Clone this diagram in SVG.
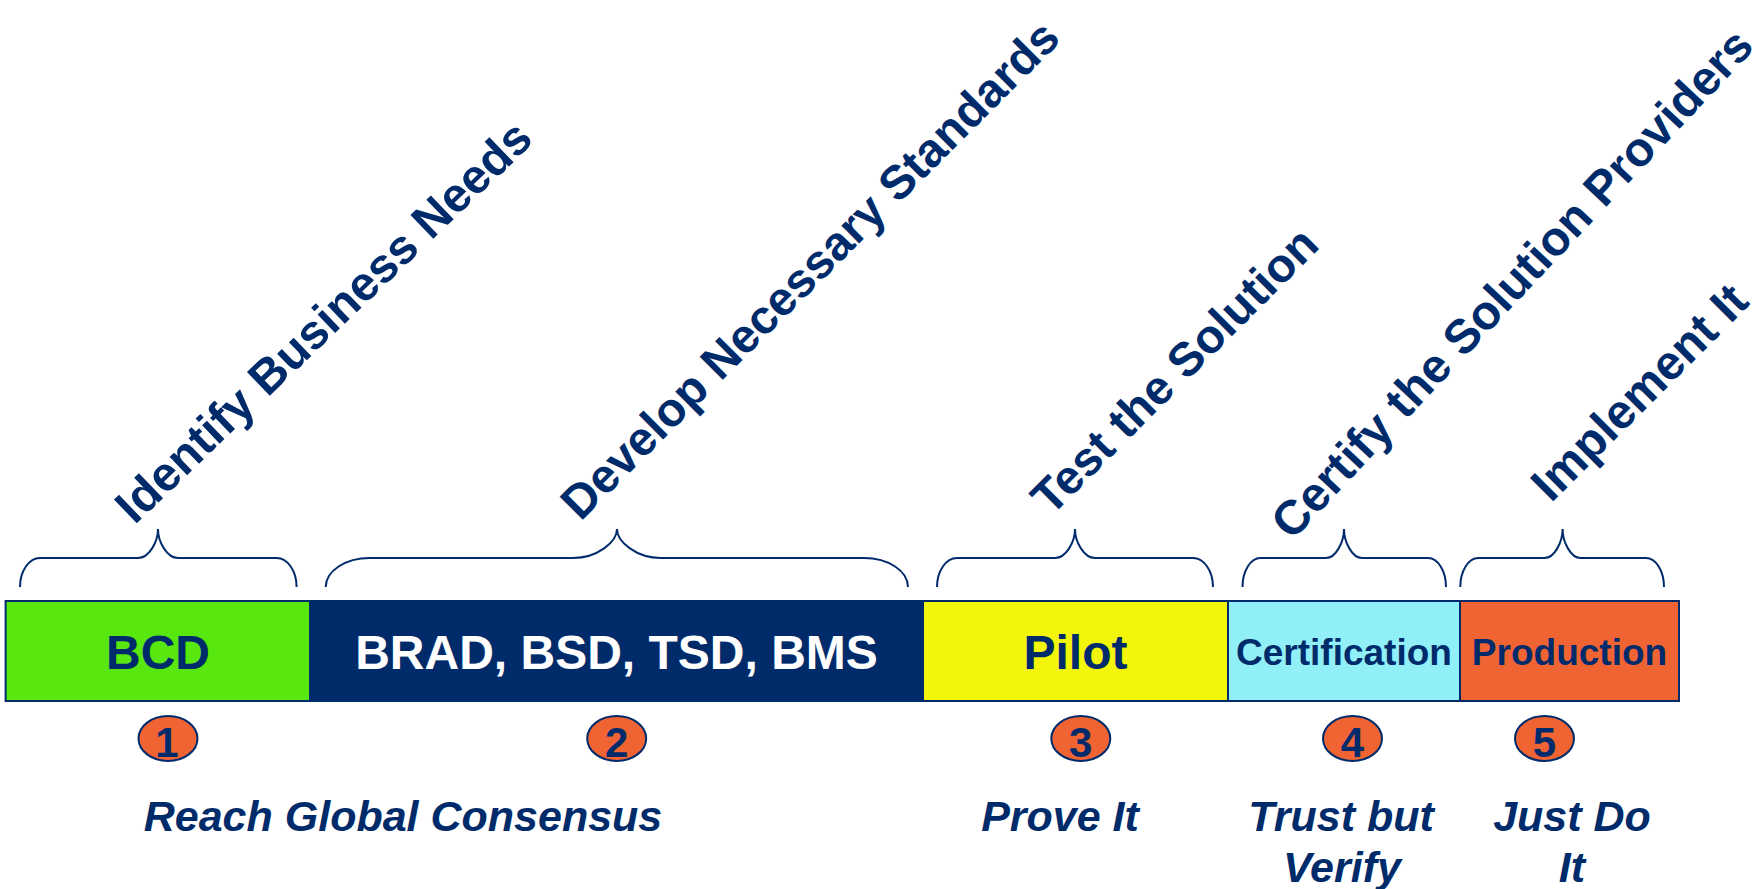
<svg xmlns="http://www.w3.org/2000/svg" width="1762" height="889" viewBox="0 0 1762 889">
<style>
text{font-family:"Liberation Sans",Arial,sans-serif;font-weight:bold;fill:#002B6B}
.diag{font-size:47.5px}
.box{stroke:#002B6B;stroke-width:2}
.brace{fill:none;stroke:#002B6B;stroke-width:2}
.num{fill:#F06434;stroke:#002B6B;stroke-width:2}
.numt{font-size:42px;text-anchor:middle}
.big{font-size:48px;text-anchor:middle}
.mid{font-size:37px;text-anchor:middle}
.it{font-size:43px;font-style:italic;text-anchor:middle}
</style>
<rect width="1762" height="889" fill="#FFFFFF"/>
<g id="labels">
<text class="diag" style="font-size:48px" transform="translate(134.6,525.4) rotate(-43.8)">Identify Business Needs</text>
<text class="diag" transform="translate(580.5,522) rotate(-45)">Develop Necessary Standards</text>
<text class="diag" transform="translate(1051,517) rotate(-45)">Test the Solution</text>
<text class="diag" style="font-size:48px" transform="translate(1292,541.5) rotate(-46.8)">Certify the Solution Providers</text>
<text class="diag" style="font-size:48px" transform="translate(1551,503.6) rotate(-45)">Implement It</text>
</g>
<g id="connectors">
<path class="brace" d="M20 587 C20 571 29 558 40 558 L138 558 C149 558 158 542 158 529 C158 542 167 558 178 558 L276.6 558 C287.6 558 296.6 571 296.6 587"/>
<path class="brace" d="M325.7 587 C325.7 571 345.4 558 369.7 558 L573 558 C597.3 558 617 542 617 529 C617 542 636.7 558 661 558 L864 558 C888.3 558 908 571 908 587"/>
<path class="brace" d="M937 587 C937 571 946 558 957 558 L1055 558 C1066 558 1075 542 1075 529 C1075 542 1084 558 1095 558 L1193 558 C1204 558 1213 571 1213 587"/>
<path class="brace" d="M1242.5 587 C1242.5 571 1250.6 558 1260.5 558 L1326 558 C1335.9 558 1344 542 1344 529 C1344 542 1352.1 558 1362 558 L1428 558 C1437.9 558 1446 571 1446 587"/>
<path class="brace" d="M1460.3 587 C1460.3 571 1468.4 558 1478.3 558 L1544.6 558 C1554.5 558 1562.6 542 1562.6 529 C1562.6 542 1570.7 558 1580.6 558 L1646 558 C1655.9 558 1664 571 1664 587"/>
</g>
<g id="phase-bcd">
<rect class="box" x="5.6" y="601" width="304.4" height="100" fill="#58E810"/>
<text class="big" x="158" y="669">BCD</text>
</g>
<g id="phase-standards">
<rect class="box" x="310" y="601" width="613" height="100" fill="#002B6B"/>
<text class="big" x="616.5" y="669" style="fill:#FFFFFF">BRAD, BSD, TSD, BMS</text>
</g>
<g id="phase-pilot">
<rect class="box" x="923" y="601" width="305" height="100" fill="#F3F50A"/>
<text class="big" x="1075.5" y="669">Pilot</text>
</g>
<g id="phase-certification">
<rect class="box" x="1228" y="601" width="232" height="100" fill="#91EFF8"/>
<text class="mid" x="1344" y="665">Certification</text>
</g>
<g id="phase-production">
<rect class="box" x="1460" y="601" width="219" height="100" fill="#F06434"/>
<text class="mid" x="1569.5" y="665">Production</text>
</g>
<g id="step-1"><ellipse class="num" cx="168" cy="738.5" rx="29.5" ry="22.5"/><text class="numt" x="167" y="757">1</text></g>
<g id="step-2"><ellipse class="num" cx="616.7" cy="738.5" rx="29.5" ry="22.5"/><text class="numt" x="616.7" y="757">2</text></g>
<g id="step-3"><ellipse class="num" cx="1080.8" cy="738.5" rx="29.5" ry="22.5"/><text class="numt" x="1080.8" y="757">3</text></g>
<g id="step-4"><ellipse class="num" cx="1352.5" cy="738.5" rx="29.5" ry="22.5"/><text class="numt" x="1352.5" y="757">4</text></g>
<g id="step-5"><ellipse class="num" cx="1544.5" cy="738.5" rx="29.5" ry="22.5"/><text class="numt" x="1544.5" y="757">5</text></g>
<g id="mottos">
<text class="it" x="403" y="831">Reach Global Consensus</text>
<text class="it" x="1060" y="831">Prove It</text>
<text class="it" x="1341" y="831">Trust but</text>
<text class="it" x="1342" y="882">Verify</text>
<text class="it" x="1572" y="831">Just Do</text>
<text class="it" x="1572" y="882">It</text>
</g>
</svg>
